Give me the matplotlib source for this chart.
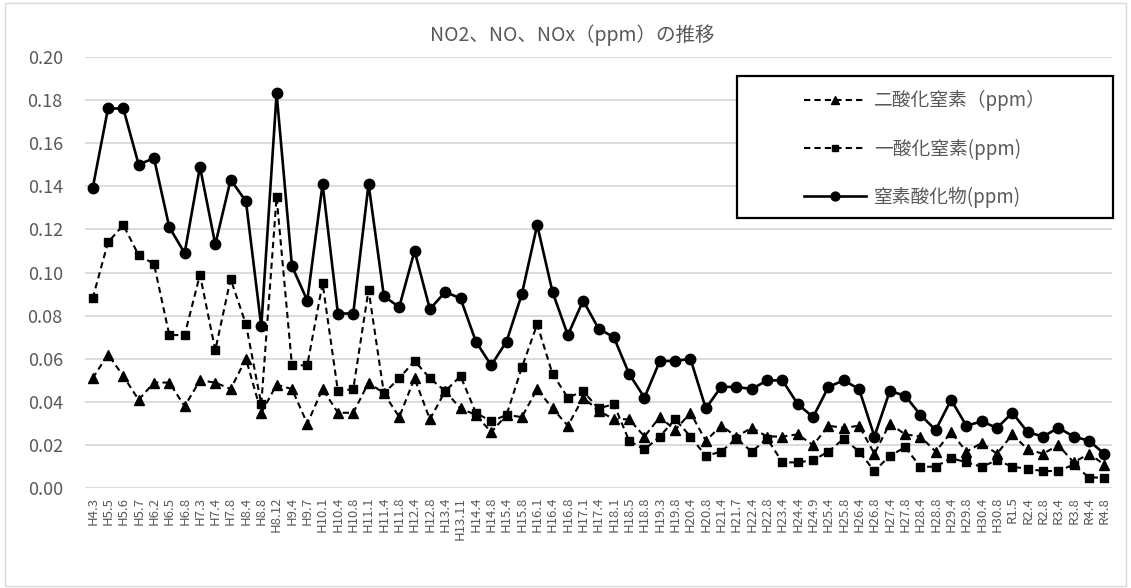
import matplotlib.pyplot as plt
from matplotlib.patches import Rectangle
import numpy as np

plt.rcParams['font.family'] = ['Noto Sans CJK JP', 'DejaVu Sans']

labels = ['H4.3', 'H5.5', 'H5.6', 'H5.7', 'H6.2', 'H6.5', 'H6.8', 'H7.3', 'H7.4', 'H7.8',
          'H8.4', 'H8.8', 'H8.12', 'H9.4', 'H9.7', 'H10.1', 'H10.4', 'H10.8', 'H11.1', 'H11.4',
          'H11.8', 'H12.4', 'H12.8', 'H13.4', 'H13.11', 'H14.4', 'H14.8', 'H15.4', 'H15.8', 'H16.1',
          'H16.4', 'H16.8', 'H17.1', 'H17.4', 'H18.1', 'H18.5', 'H18.8', 'H19.3', 'H19.8', 'H20.4',
          'H20.8', 'H21.4', 'H21.7', 'H22.4', 'H22.8', 'H23.4', 'H24.4', 'H24.9', 'H25.4', 'H25.8',
          'H26.4', 'H26.8', 'H27.4', 'H27.8', 'H28.4', 'H28.8', 'H29.4', 'H29.8', 'H30.4', 'H30.8',
          'R1.5', 'R2.4', 'R2.8', 'R3.4', 'R3.8', 'R4.4', 'R4.8']

no2 = [0.051, 0.062, 0.052, 0.041, 0.049, 0.049, 0.038, 0.050, 0.049, 0.046,
       0.060, 0.035, 0.048, 0.046, 0.030, 0.046, 0.035, 0.035, 0.049, 0.044,
       0.033, 0.051, 0.032, 0.045, 0.037, 0.034, 0.026, 0.034, 0.033, 0.046,
       0.037, 0.029, 0.042, 0.036, 0.032, 0.032, 0.024, 0.033, 0.027, 0.035,
       0.022, 0.029, 0.024, 0.028, 0.024, 0.024, 0.025, 0.020, 0.029, 0.028,
       0.029, 0.016, 0.030, 0.025, 0.024, 0.017, 0.026, 0.017, 0.021, 0.016,
       0.025, 0.018, 0.016, 0.020, 0.012, 0.016, 0.011]

no = [0.088, 0.114, 0.122, 0.108, 0.104, 0.071, 0.071, 0.099, 0.064, 0.097,
      0.076, 0.039, 0.135, 0.057, 0.057, 0.095, 0.045, 0.046, 0.092, 0.044,
      0.051, 0.059, 0.051, 0.045, 0.052, 0.035, 0.031, 0.034, 0.056, 0.076,
      0.053, 0.042, 0.045, 0.037, 0.039, 0.022, 0.018, 0.024, 0.032, 0.024,
      0.015, 0.017, 0.023, 0.017, 0.023, 0.012, 0.012, 0.013, 0.017, 0.023,
      0.017, 0.008, 0.015, 0.019, 0.010, 0.010, 0.014, 0.012, 0.010, 0.013,
      0.010, 0.009, 0.008, 0.008, 0.011, 0.005, 0.005]

nox = [0.139, 0.176, 0.176, 0.150, 0.153, 0.121, 0.109, 0.149, 0.113, 0.143,
       0.133, 0.075, 0.183, 0.103, 0.087, 0.141, 0.081, 0.081, 0.141, 0.089,
       0.084, 0.110, 0.083, 0.091, 0.088, 0.068, 0.057, 0.068, 0.090, 0.122,
       0.091, 0.071, 0.087, 0.074, 0.070, 0.053, 0.042, 0.059, 0.059, 0.060,
       0.037, 0.047, 0.047, 0.046, 0.050, 0.050, 0.039, 0.033, 0.047, 0.050,
       0.046, 0.024, 0.045, 0.043, 0.034, 0.027, 0.041, 0.029, 0.031, 0.028,
       0.035, 0.026, 0.024, 0.028, 0.024, 0.022, 0.016]

names = ['二酸化窒素（ppm）', '一酸化窒素(ppm)', '窒素酸化物(ppm)']

grey = '#595959'
fig = plt.figure(figsize=(11.31, 5.88), dpi=100)
ax = fig.add_axes([85/1131, 99.7/588, 1027/1131, 431.6/588])

x = np.arange(len(labels))
ax.plot(x, no2, color='black', lw=1.5, ls=(0, (3, 2)), marker='^', ms=6.5, label=names[0])
ax.plot(x, no, color='black', lw=1.5, ls=(0, (3, 2)), marker='s', ms=5.2, label=names[1])
ax.plot(x, nox, color='black', lw=1.9, marker='o', ms=7.5, label=names[2])

ax.set_xlim(-0.5, len(labels) - 0.5)
ax.set_ylim(0, 0.2)
ax.set_yticks(np.arange(0, 0.201, 0.02))
ax.set_yticklabels([f'{v:.2f}' for v in np.arange(0, 0.201, 0.02)], fontsize=13, color=grey)
ax.set_xticks(x)
ax.set_xticklabels(labels, rotation=90, fontsize=9.5, color=grey)
ax.tick_params(axis='y', length=0, pad=16)
ax.tick_params(axis='x', length=0, pad=6)
ax.grid(axis='y', color='#d9d9d9', lw=1.3)
ax.set_axisbelow(True)
for s in ax.spines.values():
    s.set_visible(False)

fig.text(572/1131, 1 - 35/588, 'NO2、NO、NOx（ppm）の推移', fontsize=14, color=grey,
         ha='center', va='center')

# legend box
ax.add_patch(Rectangle((0.635, 0.626), 0.366, 0.329, transform=ax.transAxes,
                       facecolor='white', edgecolor='black', lw=1.6, clip_on=False, zorder=4))
leg = ax.legend(loc='center', bbox_to_anchor=(0.818, 0.786), frameon=False, fontsize=13.5,
                handlelength=3.3, handletextpad=0.45, labelspacing=1.45, markerscale=0.85)
leg.set_zorder(5)
for t in leg.get_texts():
    t.set_color(grey)

fig.add_artist(Rectangle((5/1131, 2/588), 1121/1131, 583/588, transform=fig.transFigure,
                         fill=False, edgecolor='#d9d9d9', lw=1))

fig.savefig('out.png', dpi=100)
